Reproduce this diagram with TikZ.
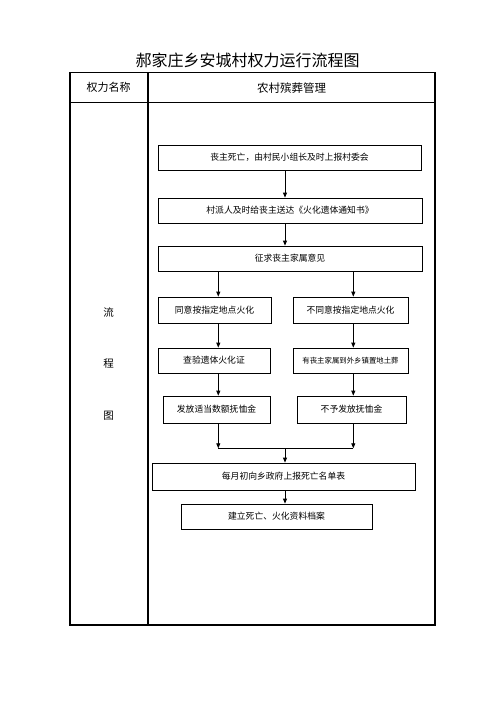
\documentclass[tikz,border=0pt]{standalone}
\usepackage{fontspec}
\newfontfamily\cjk{Noto Sans CJK SC}
\usetikzlibrary{arrows.meta}
\begin{document}
\begin{tikzpicture}[x=1pt,y=-1pt,
  box/.style={draw,line width=0.8pt,inner sep=0pt,anchor=center,font=\cjk\fontsize{8.8}{10}\selectfont},
  arr/.style={line width=0.8pt,-{Triangle[length=5pt,width=4pt]}},
  tline/.style={line width=1.1pt},
  lbl/.style={inner sep=0pt,anchor=center}]
\useasboundingbox (0,0) rectangle (496,702);
% table
\draw[tline] (70,72.7) rectangle (435,625);
\draw[tline] (148,72.7) -- (148,625);
\draw[tline] (70,102.7) -- (435,102.7);
% title and headers
\node[lbl,font=\cjk\fontsize{16}{18}\selectfont] (title) at (247.5,60.7) {郝家庄乡安城村权力运行流程图};
\node[lbl,font=\cjk\fontsize{11}{13}\selectfont] (h1) at (108.5,87.7) {权力名称};
\node[lbl,font=\cjk\fontsize{11.5}{13}\selectfont] (h2) at (291.5,87.7) {农村殡葬管理};
\node[lbl,font=\cjk\fontsize{10.5}{12}\selectfont] (c1) at (108.5,312.7) {流};
\node[lbl,font=\cjk\fontsize{10.5}{12}\selectfont] (c2) at (108.5,364) {程};
\node[lbl,font=\cjk\fontsize{10.5}{12}\selectfont] (c3) at (108.5,416) {图};
% boxes
\node[box,minimum width=263pt,minimum height=25pt] (b1) at (289.5,157.5) {丧主死亡，由村民小组长及时上报村委会};
\node[box,minimum width=264pt,minimum height=25pt] (b2) at (290,210.5) {村派人及时给丧主送达《火化遗体通知书》};
\node[box,minimum width=264pt,minimum height=25pt] (b3) at (290,258.5) {征求丧主家属意见};
\node[box,minimum width=113pt,minimum height=26pt] (l1) at (214.5,310) {同意按指定地点火化};
\node[box,minimum width=115pt,minimum height=26pt] (r1) at (350.5,310) {不同意按指定地点火化};
\node[box,minimum width=112pt,minimum height=25pt] (l2) at (214,360.5) {查验遗体火化证};
\node[box,minimum width=115pt,minimum height=25pt,font=\cjk\fontsize{7.4}{9}\selectfont] (r2) at (350.5,360.5) {有丧主家属到外乡镇置地土葬};
\node[box,minimum width=107pt,minimum height=27pt] (l3) at (216.5,409.5) {发放适当数额抚恤金};
\node[box,minimum width=109pt,minimum height=27pt] (r3) at (351.5,409.5) {不予发放抚恤金};
\node[box,minimum width=263pt,minimum height=27pt] (b4) at (283.5,476.5) {每月初向乡政府上报死亡名单表};
\node[box,minimum width=191pt,minimum height=25pt] (b5) at (276.5,516.5) {建立死亡、火化资料档案};
% guide coordinates
\coordinate (mx) at (285,0);
\coordinate (lx) at (218.3,0);
\coordinate (rx) at (353.3,0);
\coordinate (jl) at (218.3,448.3);
\coordinate (jr) at (353.3,448.3);
\coordinate (jm) at (285,448.3);
% connectors
\draw[arr] (b1.south -| mx) -- (b2.north -| mx);
\draw[arr] (b2.south -| mx) -- (b3.north -| mx);
\draw[arr] (b3.south -| lx) -- (l1.north -| lx);
\draw[arr] (b3.south -| rx) -- (r1.north -| rx);
\draw[arr] (l1.south -| lx) -- (l2.north -| lx);
\draw[arr] (r1.south -| rx) -- (r2.north -| rx);
\draw[arr] (l2.south -| lx) -- (l3.north -| lx);
\draw[arr] (r2.south -| rx) -- (r3.north -| rx);
\draw[arr] (l3.south -| lx) -- (jl);
\draw[arr] (r3.south -| rx) -- (jr);
\draw[line width=0.8pt] (jl) -- (jr);
\draw[arr] (jm) -- (b4.north -| mx);
\draw[arr] (b4.south -| mx) -- (b5.north -| mx);
\end{tikzpicture}
\end{document}
